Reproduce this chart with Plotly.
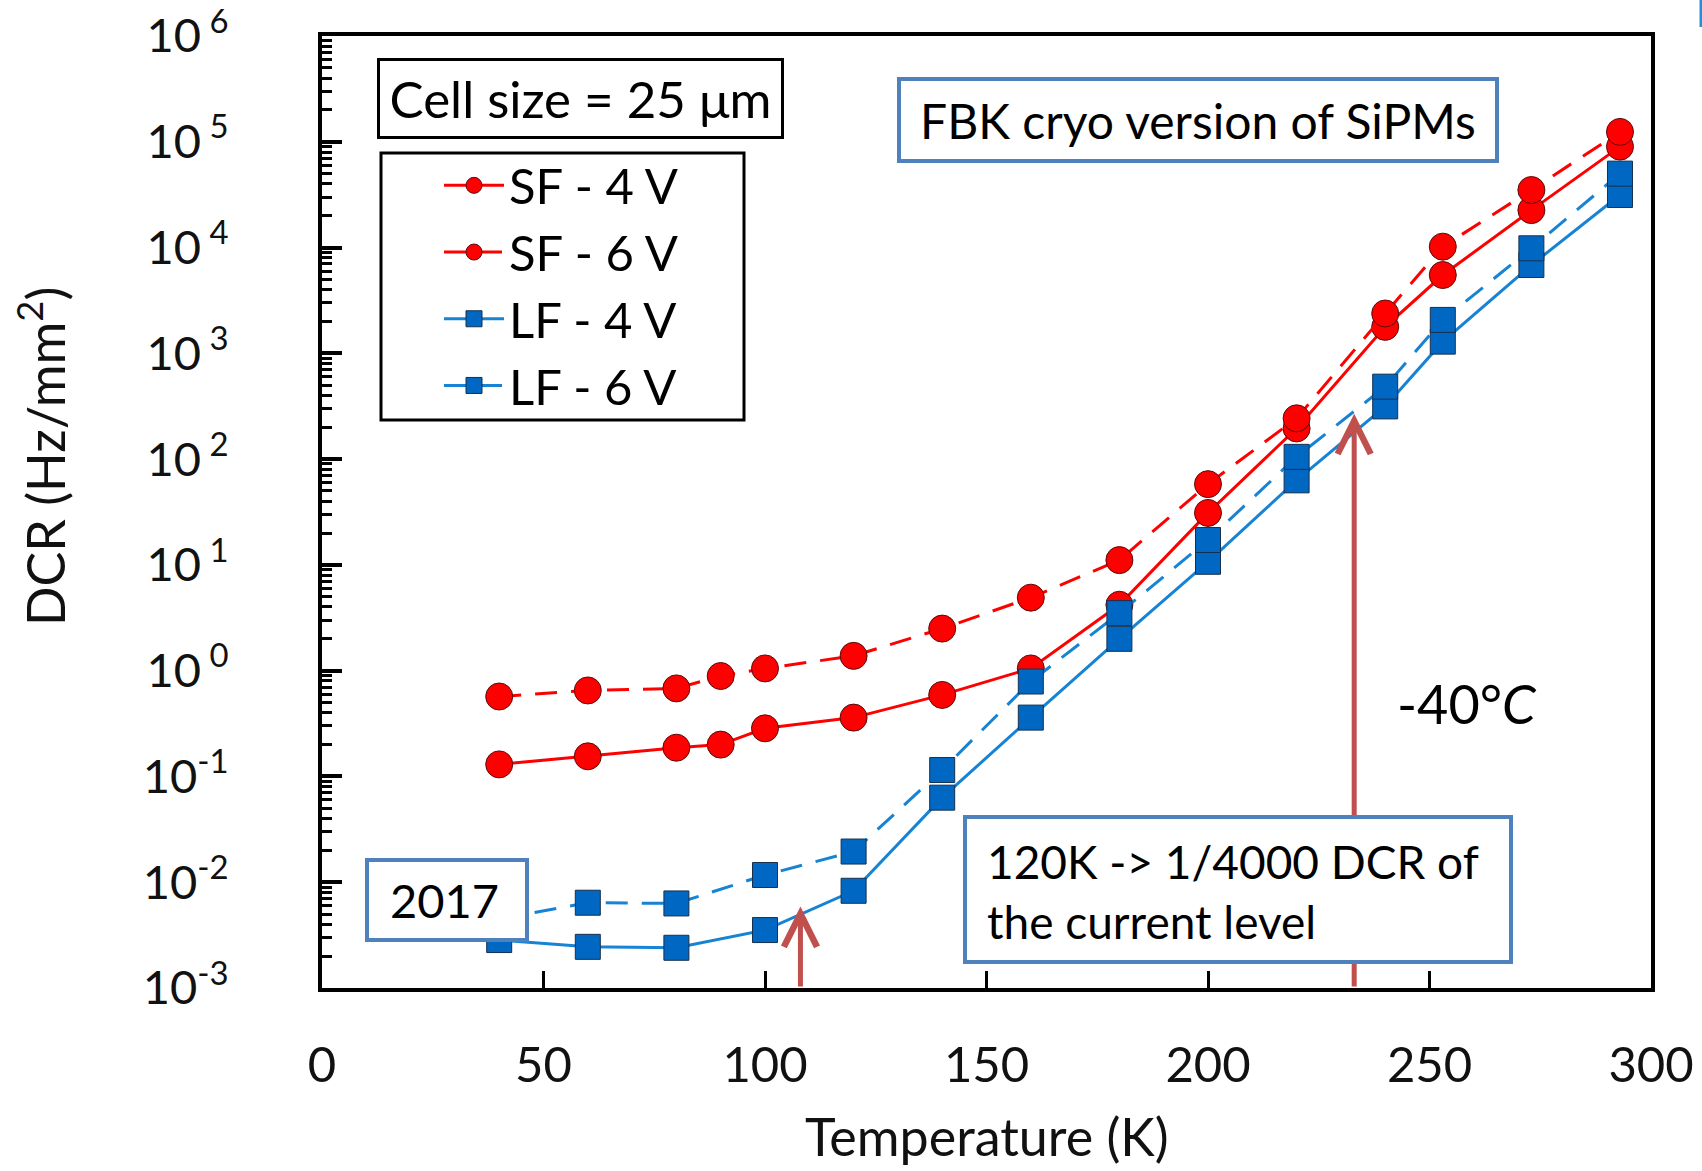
import math
import plotly.graph_objects as go

# Dark count rate vs temperature, FBK cryo SiPMs (cell size 25 um)
temps_sf = [40, 60, 80, 90, 100, 120, 140, 160, 180, 200, 220, 240, 253, 273, 293]
dcr_sf_4v = [0.13, 0.155, 0.187, 0.2, 0.285, 0.36, 0.59, 1.05, 4.2, 31, 195, 1780, 5500, 22600, 90000]
dcr_sf_6v = [0.57, 0.65, 0.68, 0.89, 1.05, 1.38, 2.5, 4.9, 11.1, 58, 243, 2380, 10200, 35000, 124000]

temps_lf = [40, 60, 80, 100, 120, 140, 160, 180, 200, 220, 240, 253, 273, 293]
dcr_lf_4v = [0.00284, 0.00245, 0.0024, 0.00353, 0.0083, 0.063, 0.36, 2.0, 10.7, 63, 315, 1290, 6840, 31400]
dcr_lf_6v = [0.0045, 0.0064, 0.0063, 0.0117, 0.0195, 0.115, 0.79, 3.5, 17.2, 105, 484, 2070, 9840, 50000]

series_names = ["SF - 4 V", "SF - 6 V", "LF - 4 V", "LF - 6 V"]

x_tick_vals = [0, 50, 100, 150, 200, 250, 300]
y_exponents = [-3, -2, -1, 0, 1, 2, 3, 4, 5, 6]

# arrows marking 108 K and -40 C (233 K)
arrow_temps = [108, 233]
arrow_tip_dcr = [10 ** -2.23, 10 ** 2.43]

FONT = "Lato, 'Open Sans', sans-serif"
RED = "#FF0000"
RED_EDGE = "#5a0a0a"
BLUE_LINE = "#1783D4"
BLUE_FILL = "#0068C2"
BLUE_EDGE = "#16304f"
ARROW = "#C0504D"
BOX_BLUE = "#4F81BD"

W, H = 1702, 1171
ML, MR, MT, MB = 322, 51, 36, 183


def px(xpix):
    return (xpix - ML) / (W - ML - MR)


def py(ypix):
    return (H - MB - ypix) / (H - MT - MB)


fig = go.Figure()

red_marker = dict(symbol="circle", size=27, color=RED, line=dict(color=RED_EDGE, width=1))
blue_marker = dict(symbol="square", size=25, color=BLUE_FILL, line=dict(color=BLUE_EDGE, width=1))

fig.add_trace(go.Scatter(x=temps_sf, y=dcr_sf_4v, name=series_names[0], mode="lines+markers",
                         line=dict(color=RED, width=3), marker=red_marker))
fig.add_trace(go.Scatter(x=temps_sf, y=dcr_sf_6v, name=series_names[1], mode="lines+markers",
                         line=dict(color=RED, width=3, dash="22px,14px"), marker=red_marker))
fig.add_trace(go.Scatter(x=temps_lf, y=dcr_lf_4v, name=series_names[2], mode="lines+markers",
                         line=dict(color=BLUE_LINE, width=3), marker=blue_marker))
fig.add_trace(go.Scatter(x=temps_lf, y=dcr_lf_6v, name=series_names[3], mode="lines+markers",
                         line=dict(color=BLUE_LINE, width=3, dash="22px,14px"), marker=blue_marker))

y_tick_text = [f"10<sup> {e}</sup>" if e >= 0 else f"10<sup>{e}</sup>" for e in y_exponents]

fig.update_xaxes(
    range=[0, 300], tickvals=x_tick_vals, ticktext=[str(v) for v in x_tick_vals],
    ticks="inside", ticklen=17, tickwidth=3, tickcolor="black",
    showline=True, linewidth=4, linecolor="black", mirror=True,
    showgrid=False, zeroline=False,
    tickfont=dict(family=FONT, size=49, color="#111"), ticklabelstandoff=31,
)
fig.update_yaxes(
    type="log", range=[-3, 6],
    tickvals=[10 ** e for e in y_exponents], ticktext=y_tick_text,
    ticks="inside", ticklen=20, tickwidth=4, tickcolor="black",
    minor=dict(ticks="inside", ticklen=10, tickwidth=3, tickcolor="black", dtick="D1", showgrid=False),
    showline=True, linewidth=4, linecolor="black", mirror=True,
    showgrid=False, zeroline=False,
    tickfont=dict(family=FONT, size=47, color="#111"), ticklabelstandoff=80,
)

annotations = []
# arrows first so the text boxes sit on top of them
for t, d in zip(arrow_temps, arrow_tip_dcr):
    annotations.append(dict(
        x=t, y=math.log10(d), xref="x", yref="y", ax=t, ay=-3, axref="x", ayref="y",
        text="", showarrow=True, arrowhead=5, arrowsize=1.3, arrowwidth=5, arrowcolor=ARROW,
        standoff=0, startstandoff=0,
    ))

# boxed labels
annotations.append(dict(
    x=px(377), y=py(58), xref="paper", yref="paper", xanchor="left", yanchor="top",
    text="Cell size = 25 μm", showarrow=False, width=401, height=75,
    bordercolor="black", borderwidth=3, borderpad=0, bgcolor="white",
    font=dict(family=FONT, size=51, color="black"),
))
annotations.append(dict(
    x=px(897), y=py(77), xref="paper", yref="paper", xanchor="left", yanchor="top",
    text="FBK cryo version of SiPMs", showarrow=False, width=594, height=78,
    bordercolor=BOX_BLUE, borderwidth=4, borderpad=0, bgcolor="white",
    font=dict(family=FONT, size=48, color="black"),
))
annotations.append(dict(
    x=px(365), y=py(858), xref="paper", yref="paper", xanchor="left", yanchor="top",
    text=" ", showarrow=False, width=156, height=76,
    bordercolor=BOX_BLUE, borderwidth=4, borderpad=0, bgcolor="white",
    font=dict(family=FONT, size=47, color="black"),
))
annotations.append(dict(
    x=px(388), y=py(900), xref="paper", yref="paper", xanchor="left", yanchor="middle",
    text="2017", showarrow=False,
    font=dict(family=FONT, size=47, color="black"),
))
annotations.append(dict(
    x=px(963), y=py(815), xref="paper", yref="paper", xanchor="left", yanchor="top",
    text=" ", showarrow=False, width=542, height=141,
    bordercolor=BOX_BLUE, borderwidth=4, borderpad=0, bgcolor="white",
    font=dict(family=FONT, size=46, color="black"),
))
annotations.append(dict(
    x=px(985), y=py(891), xref="paper", yref="paper", xanchor="left", yanchor="middle",
    text="120K -> 1/4000 DCR of<br>the current level", showarrow=False, align="left",
    font=dict(family=FONT, size=46, color="black"),
))
annotations.append(dict(
    x=px(1467), y=py(703), xref="paper", yref="paper", xanchor="center", yanchor="middle",
    text="-40°<i>C</i>", showarrow=False,
    font=dict(family=FONT, size=54, color="black"),
))
# axis titles
annotations.append(dict(
    x=0.5, y=py(1136), xref="paper", yref="paper", xanchor="center", yanchor="middle",
    text="Temperature (K)", showarrow=False,
    font=dict(family=FONT, size=52, color="#111"),
))
annotations.append(dict(
    x=px(41), y=py(457), xref="paper", yref="paper", xanchor="center", yanchor="middle",
    text="DCR (Hz/mm<sup>2</sup>)", showarrow=False, textangle=-90,
    font=dict(family=FONT, size=52, color="#111"),
))

shapes = [
    # legend frame
    dict(type="rect", xref="paper", yref="paper", x0=px(381), x1=px(744), y0=py(420), y1=py(153),
         line=dict(color="black", width=3), fillcolor="rgba(0,0,0,0)"),
    # sliver of blue at the top-right edge
    dict(type="line", xref="paper", yref="paper", x0=px(1701), x1=px(1701), y0=py(0), y1=py(27),
         line=dict(color="#1E90E0", width=3)),
]

fig.update_layout(
    width=W, height=H,
    margin=dict(l=ML, r=MR, t=MT, b=MB, autoexpand=False),
    paper_bgcolor="white", plot_bgcolor="white",
    font=dict(family=FONT, color="black"),
    showlegend=True,
    legend=dict(
        x=px(439), y=py(147), xanchor="left", yanchor="top",
        bgcolor="rgba(0,0,0,0)", borderwidth=0, itemwidth=60,
        font=dict(family=FONT, size=49, color="black"), itemclick=False,
    ),
    annotations=annotations,
    shapes=shapes,
)

fig.write_html("out.html")
